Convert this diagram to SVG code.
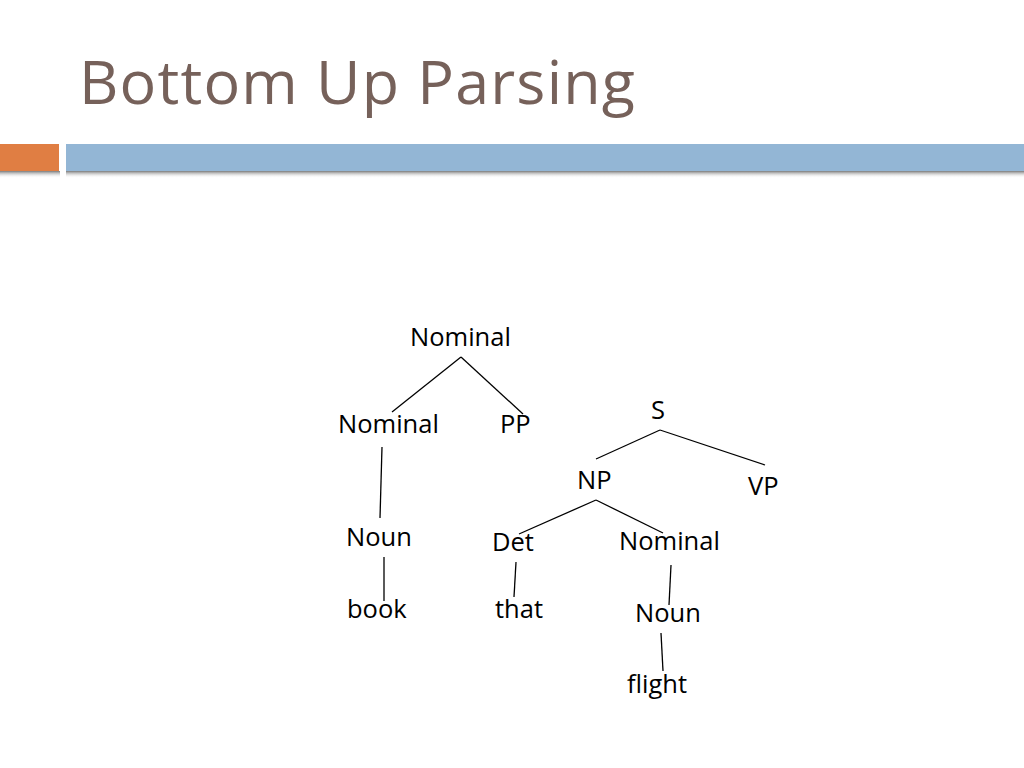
<svg xmlns="http://www.w3.org/2000/svg" width="1024" height="768" viewBox="0 0 1024 768">
<defs>
<style>
.t{font-family:"Open Sans","Noto Sans","DejaVu Sans",sans-serif;font-size:25.5px;fill:#000;}
.title{font-family:"Open Sans","Noto Sans","DejaVu Sans",sans-serif;font-size:61px;letter-spacing:1.2px;fill:#76615A;}
.c line{stroke:#000;stroke-width:1.3;}
</style>
<linearGradient id="sh" x1="0" y1="0" x2="0" y2="1">
<stop offset="0" stop-color="#7a7a7a"/>
<stop offset="1" stop-color="#ffffff" stop-opacity="0"/>
</linearGradient>
</defs>
<rect width="1024" height="768" fill="#fff"/>
<text class="title" x="79" y="104">Bottom Up Parsing</text>
<g id="header-bar">
<rect x="0" y="171" width="60" height="7" fill="url(#sh)"/>
<rect x="66" y="171" width="958" height="7" fill="url(#sh)"/>
<rect x="0" y="144" width="59" height="27" fill="#E07E43"/>
<rect x="66" y="144" width="958" height="27" fill="#93B6D5"/>
</g>
<g id="connectors" class="c">
<line x1="461" y1="357" x2="392" y2="412"/>
<line x1="461" y1="357" x2="523" y2="414"/>
<line x1="382" y1="447" x2="380" y2="518"/>
<line x1="384" y1="557" x2="384" y2="601"/>
<line x1="660" y1="430" x2="596" y2="459"/>
<line x1="660" y1="430" x2="765" y2="465"/>
<line x1="596" y1="500" x2="519" y2="534"/>
<line x1="596" y1="500" x2="663" y2="533"/>
<line x1="516" y1="562" x2="514" y2="597"/>
<line x1="671" y1="565" x2="669" y2="605"/>
<line x1="661" y1="633" x2="663" y2="671"/>
</g>
<g id="n-nominal-top"><text class="t" x="410" y="346">Nominal</text></g>
<g id="n-nominal-left"><text class="t" x="338" y="433">Nominal</text></g>
<g id="n-pp"><text class="t" x="500" y="433">PP</text></g>
<g id="n-noun-left"><text class="t" x="346" y="546">Noun</text></g>
<g id="n-book"><text class="t" x="347" y="618">book</text></g>
<g id="n-s"><text class="t" x="651" y="419">S</text></g>
<g id="n-np"><text class="t" x="577" y="489">NP</text></g>
<g id="n-vp"><text class="t" x="748" y="495">VP</text></g>
<g id="n-det"><text class="t" x="492" y="551">Det</text></g>
<g id="n-nominal-right"><text class="t" x="619" y="550">Nominal</text></g>
<g id="n-that"><text class="t" x="495" y="618">that</text></g>
<g id="n-noun-right"><text class="t" x="635" y="622">Noun</text></g>
<g id="n-flight"><text class="t" x="627" y="693">flight</text></g>
</svg>
